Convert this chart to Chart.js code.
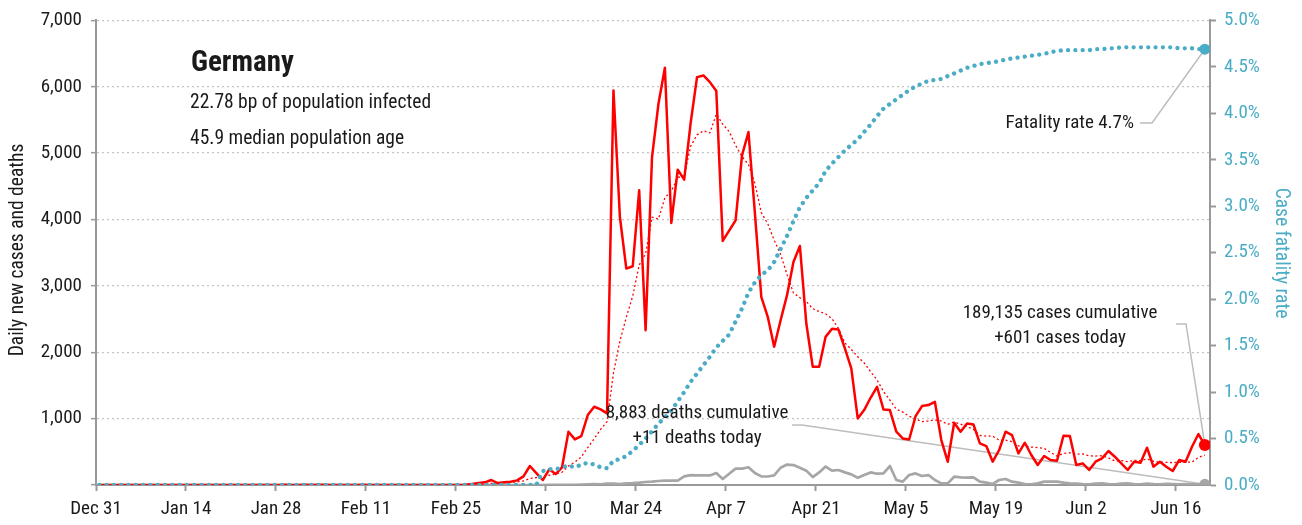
<!DOCTYPE html>
<html lang="en">
<head>
  <meta charset="UTF-8">
  <script src="https://cdn.jsdelivr.net/npm/chart.js"></script>
  <title>Germany</title>
  <style>
    body{margin:0;background:#fff;}
    #wrap{width:1302px;height:525px;}
  </style>
</head>
<body>
<div id="wrap"><canvas id="myChart" width="1302" height="525"></canvas></div>
<script>
  // x axis: day 0 = Dec 31, one label every 14 days
  const tickLabels = ['Dec 31','Jan 14','Jan 28','Feb 11','Feb 25','Mar 10','Mar 24','Apr 7','Apr 21','May 5','May 19','Jun 2','Jun 16']

  // daily new cases, Dec 31 .. Jun 20
  const cases = [
    0,0,0,0,0,0,0,0,0,0, 0,0,0,0,0,0,0,0,0,0, 0,0,0,0,0,0,0,0,
    1,3,0,1,3,0,2,2,0,0, 0,0,0,2,0,0,0,0,0,0, 0,0,0,0,0,0,0,0,0,
    5,15,30,40,75,30,40,50,70,130,
    286,180,75,236,165,266,802,687,737,1053,
    1179,1139,1079,5945,4038,3261,3296,4440,2333,4941,
    5744,6286,3948,4751,4600,5450,6145,6170,6070,5935,
    3677,3833,3988,4967,5318,4100,2835,2534,2082,2483,
    2860,3361,3602,2433,1781,1781,2232,2353,2343,2057,
    1756,1003,1129,1314,1480,1139,1129,803,702,686,
    1038,1189,1204,1254,677,351,938,803,928,913,
    627,587,351,527,803,752,477,637,452,301,
    436,376,366,742,737,301,326,226,351,401,
    512,426,326,226,351,336,562,276,351,276,
    211,376,351,577,768,601
  ]

  // 7-day average of cases (thin dotted red)
  const casesAvg = [
    0,0,0,0,0,0,0,0,0,0, 0,0,0,0,0,0,0,0,0,0, 0,0,0,0,0,0,0,0,0,0,
    0,0,0,0,0,0,0,0,0,0, 0,0,0,0,0,0,0,0,0,0, 0,0,0,0,0,0,0,
    1,3,7,13,24,28,34,40,48,62,
    97,112,119,147,163,191,287,344,424,564,
    698,838,954,1688,2167,2528,2848,3314,3485,4036,
    4008,4329,4427,4635,4658,5103,5275,5336,5305,5589,
    5435,5326,5117,4949,4827,4545,4103,3939,3689,3474,
    3173,2894,2822,2765,2657,2614,2579,2506,2361,2140,
    2043,1932,1839,1708,1583,1411,1279,1142,1099,1036,
    997,955,964,982,964,914,950,917,879,838,
    748,735,735,677,677,651,589,591,571,564,
    551,490,435,473,487,466,469,439,436,441,
    408,363,367,353,370,368,391,358,347,340,
    338,341,343,345,416,451
  ]

  // daily new deaths
  const deaths = [
    0,0,0,0,0,0,0,0,0,0, 0,0,0,0,0,0,0,0,0,0, 0,0,0,0,0,0,0,0,0,0,
    0,0,0,0,0,0,0,0,0,0, 0,0,0,0,0,0,0,0,0,0, 0,0,0,0,0,0,0,0,0,0,
    0,0,0,0,0,0,0,0,0,0,
    2,1,3,2,4,5,8,12,10,20,
    22,15,25,28,35,45,51,60,67,67,
    67,130,149,144,144,144,180,90,170,247,
    247,267,180,130,128,144,260,308,300,260,
    216,120,190,278,216,226,190,160,110,150,
    190,170,175,286,75,50,150,175,135,150,
    75,25,25,125,115,110,115,50,35,15,
    75,90,50,35,15,10,25,50,50,50,
    35,25,20,12,10,20,25,15,10,20,
    25,15,10,20,12,10,18,15,10,12,
    8,10,11
  ]

  // case fatality rate in % (right axis)
  const cfr = [
    0,0,0,0,0,0,0,0,0,0, 0,0,0,0,0,0,0,0,0,0, 0,0,0,0,0,0,0,0,0,0,
    0,0,0,0,0,0,0,0,0,0, 0,0,0,0,0,0,0,0,0,0, 0,0,0,0,0,0,0,0,0,0,
    0,0,0,0,0,0,0,0,0,
    0.15,0.17,0.17,0.19,0.21,0.19,0.22,0.24,0.22,0.19,
    0.18,0.26,0.28,0.31,0.37,0.43,0.50,0.58,0.66,0.73,
    0.80,0.90,1.00,1.11,1.20,1.29,1.38,1.48,1.55,1.62,
    1.76,1.90,2.07,2.18,2.26,2.31,2.40,2.54,2.68,2.84,
    2.99,3.09,3.17,3.25,3.38,3.46,3.53,3.60,3.66,3.72,
    3.80,3.88,3.97,4.05,4.10,4.15,4.20,4.25,4.29,4.32,
    4.35,4.36,4.37,4.40,4.43,4.46,4.49,4.51,4.53,4.54,
    4.55,4.56,4.58,4.59,4.60,4.61,4.62,4.63,4.64,4.66,
    4.67,4.68,4.68,4.68,4.68,4.68,4.69,4.69,4.70,4.70,
    4.71,4.71,4.71,4.71,4.71,4.71,4.71,4.71,4.71,4.70,
    4.70,4.70,4.69,4.69
  ]

  const FONT = "'Liberation Sans Narrow', 'Roboto Condensed', 'DejaVu Sans Condensed', sans-serif"
  const RED = '#ff0000'
  const GREY = '#a6a6a6'
  const TEAL = '#4bacc6'
  const TXT = '#1a1a1a'
  const last = cases.length - 1

  // points sit in the middle of their day
  const pts = arr => arr.map((v, i) => ({x: i + 0.5, y: v}))
  const endDot = r => c => c.dataIndex === last ? r : 0

  // texts and leader lines
  const notes = {
    id: 'notes',
    beforeDatasetsDraw(chart){
      const {ctx, scales:{x, y, y2}} = chart
      const xe = x.getPixelForValue(last + 0.5)
      ctx.save()
      ctx.strokeStyle = '#bdbdbd'
      ctx.lineWidth = 1.5
      const lead = (pts) => {
        ctx.beginPath()
        ctx.moveTo(pts[0][0], pts[0][1])
        for (let i = 1; i < pts.length; i++) ctx.lineTo(pts[i][0], pts[i][1])
        ctx.stroke()
      }
      lead([[1140,123],[1152,123],[xe, y2.getPixelForValue(cfr[last])]])
      lead([[1176,324],[1186,324],[xe, y.getPixelForValue(cases[last])]])
      lead([[792,425],[802,425],[xe, y.getPixelForValue(deaths[last])]])
      ctx.restore()
    },
    afterDraw(chart){
      const {ctx} = chart
      ctx.save()
      ctx.fillStyle = TXT
      ctx.textBaseline = 'middle'
      ctx.textAlign = 'left'
      ctx.font = 'bold 29px ' + FONT
      ctx.fillText('Germany', 191, 64)
      ctx.font = '19.5px ' + FONT
      ctx.fillText('22.78 bp of population infected', 190, 103)
      ctx.fillText('45.9 median population age', 190, 139)
      ctx.font = '19px ' + FONT
      ctx.textAlign = 'right'
      ctx.fillText('Fatality rate 4.7%', 1134, 123)
      ctx.textAlign = 'center'
      ctx.fillText('189,135 cases cumulative', 1060, 313)
      ctx.fillText('+601 cases today', 1060, 338)
      ctx.fillText('8,883 deaths cumulative', 697, 413)
      ctx.fillText('+11 deaths today', 697, 438)
      // axis titles
      ctx.font = '19.5px ' + FONT
      ctx.save()
      ctx.translate(18, 250)
      ctx.rotate(-Math.PI / 2)
      ctx.fillText('Daily new cases and deaths', 0, 0)
      ctx.restore()
      ctx.save()
      ctx.fillStyle = TEAL
      ctx.translate(1281, 253)
      ctx.rotate(Math.PI / 2)
      ctx.fillText('Case fatality rate', 0, 0)
      ctx.restore()
      ctx.restore()
    }
  }

  const ctx = document.getElementById('myChart')
  new Chart(ctx, {
    type: 'line',
    data: {
      datasets: [
        {
          label: 'Case fatality rate', data: pts(cfr), yAxisID: 'y2', order: 1,
          borderColor: TEAL, borderWidth: 4.3, borderDash: [0.01, 7.3], borderCapStyle: 'round',
          pointRadius: endDot(5.5), pointBackgroundColor: TEAL, pointBorderWidth: 0
        },
        {
          label: 'Cases', data: pts(cases), yAxisID: 'y', order: 2,
          borderColor: RED, borderWidth: 2.5,
          pointRadius: endDot(6), pointBackgroundColor: RED, pointBorderWidth: 0
        },
        {
          label: 'Cases 7-day', data: pts(casesAvg), yAxisID: 'y', order: 3,
          borderColor: RED, borderWidth: 1.3, borderDash: [2, 2.5],
          pointRadius: 0
        },
        {
          label: 'Deaths', data: pts(deaths), yAxisID: 'y', order: 4,
          borderColor: GREY, borderWidth: 2.7,
          pointRadius: endDot(5.5), pointBackgroundColor: GREY, pointBorderWidth: 0
        }
      ]
    },
    options: {
      responsive: false,
      animation: false,
      devicePixelRatio: 1,
      layout: {padding: {top: 20}},
      plugins: {legend: {display: false}, tooltip: {enabled: false}},
      elements: {line: {tension: 0, borderJoinStyle: 'round'}},
      scales: {
        x: {
          type: 'linear', min: 0, max: 173.3,
          afterFit: s => { s.height = 40 },
          afterBuildTicks: s => { s.ticks = tickLabels.map((t, i) => ({value: i * 14})) },
          ticks: {
            autoSkip: false, maxRotation: 0, padding: 7, color: TXT,
            font: {family: FONT, size: 19},
            callback: (v, i) => tickLabels[i]
          },
          grid: {drawOnChartArea: false, tickLength: 6, tickColor: '#999', tickWidth: 2},
          border: {color: '#999', width: 2}
        },
        y: {
          position: 'left', min: 0, max: 7000,
          afterFit: s => { s.width = 96 },
          ticks: {
            stepSize: 1000, padding: 9, color: TXT,
            font: {family: FONT, size: 19},
            callback: v => v === 0 ? '' : v.toLocaleString('en-US')
          },
          grid: {color: '#c4c4c4', lineWidth: 1.3, tickLength: 5, tickColor: '#999', tickWidth: 1.5, tickBorderDash: []},
          border: {color: '#999', width: 2, dash: [2, 3]}
        },
        y2: {
          position: 'right', min: 0, max: 5,
          afterFit: s => { s.width = 92 },
          ticks: {
            stepSize: 0.5, padding: 8, color: TEAL,
            font: {family: FONT, size: 19},
            callback: v => v.toFixed(1) + '%'
          },
          grid: {drawOnChartArea: false, tickLength: 6, tickColor: '#999', tickWidth: 2},
          border: {color: '#999', width: 2}
        }
      }
    },
    plugins: [notes]
  })
</script>
</body>
</html>
